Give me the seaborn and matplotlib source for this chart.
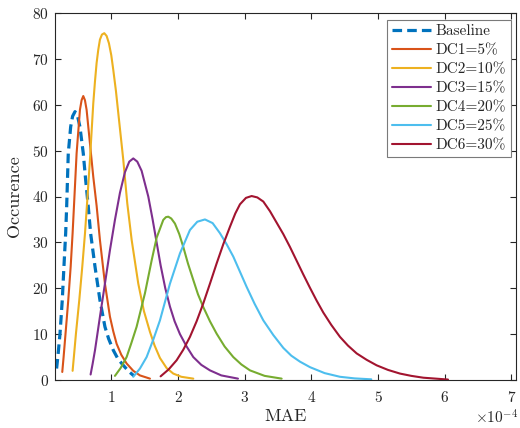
import matplotlib
matplotlib.use("Agg")
import matplotlib.pyplot as plt
import seaborn as sns
import pandas as pd

# ---------------- data (x in units of 1e-4) ----------------
X_UNIT = 1e-4

baseline_x = [0.18, 0.205, 0.231, 0.265, 0.29, 0.316, 0.331, 0.355, 0.391, 0.42, 0.456,
              0.49, 0.53, 0.58, 0.616, 0.655, 0.69, 0.756, 0.83, 0.905, 0.96, 1.03,
              1.1, 1.18, 1.26, 1.34]
baseline_y = [2.5, 6.0, 10.1, 17.4, 24.7, 32.0, 37.8, 49.4, 55.2, 57.5, 58.5,
              57.8, 55.2, 49.4, 43.6, 37.8, 32.0, 24.7, 17.4, 11.6, 9.0, 6.5,
              4.6, 3.2, 1.9, 0.9]

dc1_x = [0.265, 0.285, 0.306, 0.355, 0.391, 0.42, 0.445, 0.48, 0.53, 0.555, 0.58, 0.605,
         0.63, 0.68, 0.73, 0.78, 0.83, 0.905, 0.98, 1.03, 1.08, 1.15, 1.23, 1.33, 1.43, 1.58]
dc1_y = [1.75, 5.0, 8.7, 17.4, 24.7, 32.0, 39.2, 49.4, 58.9, 61.0, 61.9, 61.0,
         58.9, 51.6, 44.3, 38.0, 30.5, 21.0, 13.8, 10.6, 7.9, 5.5, 3.6, 2.0, 1.0, 0.3]

dc2_x = [0.42, 0.445, 0.47, 0.52, 0.565, 0.606, 0.64, 0.68, 0.73, 0.755, 0.78, 0.805,
         0.83, 0.86, 0.895, 0.93, 0.965, 1.0, 1.03, 1.07, 1.105, 1.18, 1.24, 1.306,
         1.405, 1.49, 1.58, 1.65, 1.73, 1.83, 1.93, 2.05, 2.23]
dc2_y = [2.0, 6.0, 10.1, 17.4, 24.7, 32.0, 39.2, 48.0, 60.3, 65.0, 69.1, 72.0,
         74.2, 75.3, 75.6, 75.0, 73.4, 70.8, 67.6, 63.0, 58.2, 48.0, 38.5, 30.5,
         21.0, 15.0, 10.5, 7.5, 4.8, 2.6, 1.4, 0.7, 0.3]

dc3_x = [0.69, 0.72, 0.756, 0.83, 0.905, 0.98, 1.055, 1.13, 1.205, 1.27, 1.33, 1.39,
         1.455, 1.555, 1.62, 1.68, 1.74, 1.81, 1.88, 1.95, 2.03, 2.13, 2.23, 2.35,
         2.48, 2.65, 2.9]
dc3_y = [1.2, 3.5, 6.5, 13.8, 21.0, 28.3, 34.9, 40.8, 45.3, 47.6, 48.3, 47.6,
         45.6, 40.0, 35.0, 30.0, 25.0, 20.0, 16.0, 12.8, 10.0, 7.3, 5.0, 3.3,
         2.1, 1.0, 0.3]

dc4_x = [1.055, 1.14, 1.23, 1.3, 1.38, 1.505, 1.606, 1.68, 1.78, 1.82, 1.855, 1.9,
         1.955, 2.02, 2.08, 2.15, 2.23, 2.3, 2.38, 2.48, 2.58, 2.7, 2.83, 2.95,
         3.08, 3.3, 3.555]
dc4_y = [0.9, 2.6, 5.0, 8.0, 11.6, 18.9, 26.1, 31.0, 34.9, 35.5, 35.6, 35.2,
         34.1, 31.8, 29.0, 25.4, 21.8, 18.7, 15.9, 12.8, 10.1, 7.3, 5.0, 3.4,
         2.1, 0.9, 0.3]

dc5_x = [1.33, 1.43, 1.53, 1.63, 1.73, 1.88, 2.03, 2.18, 2.29, 2.405, 2.52, 2.63,
         2.73, 2.83, 2.93, 3.03, 3.15, 3.28, 3.43, 3.58, 3.7, 3.83, 3.98, 4.2,
         4.43, 4.65, 4.9]
dc5_y = [0.7, 2.5, 5.0, 8.8, 13.0, 21.0, 27.6, 32.7, 34.5, 35.0, 34.2, 32.0,
         29.6, 26.9, 23.6, 20.3, 16.6, 13.0, 9.8, 7.0, 5.3, 4.0, 2.8, 1.5,
         0.7, 0.35, 0.15]

dc6_x = [1.74, 1.86, 1.98, 2.08, 2.18, 2.28, 2.38, 2.48, 2.58, 2.68, 2.78, 2.86,
         2.93, 3.02, 3.105, 3.19, 3.28, 3.38, 3.48, 3.58, 3.68, 3.78, 3.88, 3.98,
         4.08, 4.18, 4.3, 4.43, 4.55, 4.68, 4.83, 4.98, 5.15, 5.33, 5.5, 5.68, 6.05]
dc6_y = [0.8, 2.3, 4.3, 6.6, 9.4, 12.8, 16.7, 21.0, 25.4, 29.6, 33.4, 36.3,
         38.3, 39.7, 40.1, 39.8, 38.9, 36.8, 34.3, 31.8, 29.0, 26.0, 23.0, 20.1,
         17.3, 14.7, 12.0, 9.4, 7.5, 5.8, 4.4, 3.2, 2.2, 1.4, 0.9, 0.5, 0.1]

labels = ["Baseline", "DC1=5%", "DC2=10%", "DC3=15%", "DC4=20%", "DC5=25%", "DC6=30%"]
colors = ["#0072BD", "#D95319", "#EDB120", "#7E2F8E", "#77AC30", "#4DBEEE", "#A2142F"]
series = [(baseline_x, baseline_y), (dc1_x, dc1_y), (dc2_x, dc2_y), (dc3_x, dc3_y),
          (dc4_x, dc4_y), (dc5_x, dc5_y), (dc6_x, dc6_y)]

# ---------------- style ----------------
sns.set_style("ticks")
plt.rcParams["font.family"] = ["cmr10", "DejaVu Serif"]
plt.rcParams["mathtext.fontset"] = "cm"
plt.rcParams["axes.formatter.use_mathtext"] = True
plt.rcParams["axes.unicode_minus"] = False

fig = plt.figure(figsize=(5.2, 4.28), dpi=100)
ax = fig.add_axes([55 / 520, 1 - 380 / 428, 461 / 520, 367 / 428])

for (xs, ys), lab, col in zip(series, labels, colors):
    df = pd.DataFrame({"MAE": [v * X_UNIT for v in xs], "Occurence": ys})
    if lab == "Baseline":
        sns.lineplot(data=df, x="MAE", y="Occurence", ax=ax, color=col, label=lab,
                     linewidth=2.3)
        ax.lines[-1].set_dashes((3.0, 1.6))
    else:
        sns.lineplot(data=df, x="MAE", y="Occurence", ax=ax, color=col, label=lab,
                     linewidth=1.5)
    ax.lines[-1].set_solid_joinstyle("round")
    ax.lines[-1].set_dash_joinstyle("round")

ax.set_xlim(0.156e-4, 7.07e-4)
ax.set_ylim(0, 80)
ax.set_xticks([v * X_UNIT for v in range(1, 8)])
ax.set_yticks(range(0, 81, 10))
ax.ticklabel_format(axis="x", style="sci", scilimits=(0, 0), useMathText=True)

edge = "#262626"
for s in ax.spines.values():
    s.set_visible(True)
    s.set_color(edge)
    s.set_linewidth(0.8)
ax.tick_params(axis="both", direction="in", top=True, right=True, length=4.5,
               width=0.8, color=edge, labelcolor=edge, labelsize=11)
ax.tick_params(axis="x", pad=7)
ax.tick_params(axis="y", pad=4.5)

ax.set_xlabel("MAE", fontsize=13, color=edge, labelpad=3)
ax.set_ylabel("Occurence", fontsize=13, color=edge, labelpad=7)

off = ax.xaxis.get_offset_text()
off.set_fontsize(11)
off.set_color(edge)
off.set_horizontalalignment("left")
off.set_x(0.912)

leg = ax.legend(loc="upper right", bbox_to_anchor=(0.989, 0.982), borderaxespad=0,
                fontsize=11, frameon=True, fancybox=False, framealpha=1,
                edgecolor="#7a7a7a", handlelength=2.6, handletextpad=0.3,
                labelspacing=0.35, borderpad=0.3)
leg.get_frame().set_linewidth(0.8)
for t in leg.get_texts():
    t.set_color(edge)

fig.savefig("out.png", dpi=100)
